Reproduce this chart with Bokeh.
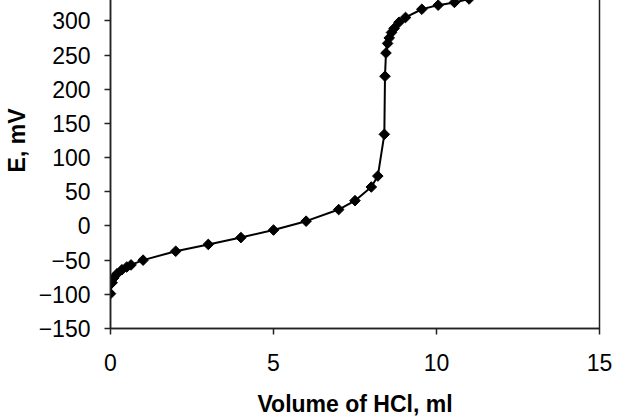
from bokeh.plotting import figure
from bokeh.models import Range1d, FixedTicker
from bokeh.embed import file_html
from bokeh.resources import INLINE

# Titration data: volume of HCl (ml) vs potential E (mV)
volume_ml = [0, 0.05, 0.1, 0.2, 0.35, 0.5, 0.63, 1, 2, 3, 4, 5, 6, 7, 7.5, 8, 8.2,
             8.4, 8.42, 8.45, 8.5, 8.55, 8.62, 8.7, 8.85, 9.05, 9.55, 10.05, 10.55, 11.0]
potential_mv = [-99, -83, -76, -70, -64, -60, -57, -50, -37, -27, -17, -6, 7, 24, 37, 57, 73,
                134, 219, 253, 267, 275, 283, 289, 298, 305, 317, 323, 327, 332]

x_ticks = [0, 5, 10, 15]
y_ticks = [-150, -100, -50, 0, 50, 100, 150, 200, 250, 300]

FONT = "Liberation Sans"

p = figure(width=614, height=467,
           x_range=Range1d(0, 15), y_range=Range1d(-150, 400),
           output_backend="svg", toolbar_location=None,
           min_border_left=107, min_border_right=15,
           min_border_top=0, min_border_bottom=88,
           margin=(-48, 0, -9, 0),
           background_fill_color="white", border_fill_color="white")

p.line(volume_ml, potential_mv, line_color="black", line_width=2)
p.scatter(volume_ml, potential_mv, marker="square", angle=0.785398, size=7.5,
          fill_color="black", line_color="black")

p.xgrid.grid_line_color = None
p.ygrid.grid_line_color = None
p.outline_line_color = "#222222"
p.outline_line_width = 1.5
p.outline_line_alpha = 1.0

p.xaxis.ticker = FixedTicker(ticks=x_ticks)
p.yaxis.ticker = FixedTicker(ticks=y_ticks)

for ax in (p.xaxis[0], p.yaxis[0]):
    ax.axis_line_color = "#222222"
    ax.axis_line_width = 1.5
    ax.major_tick_line_color = "#222222"
    ax.major_tick_line_width = 1.5
    ax.major_tick_out = 6
    ax.major_tick_in = 0
    ax.minor_tick_line_color = None
    ax.major_label_text_font = FONT
    ax.major_label_text_font_size = "23px"
    ax.major_label_text_color = "black"
    ax.axis_label_text_font = FONT
    ax.axis_label_text_font_size = "23px"
    ax.axis_label_text_font_style = "bold"
    ax.axis_label_text_color = "black"

p.xaxis.axis_label = "Volume of HCl, ml"
p.yaxis.axis_label = "E, mV"
p.xaxis.major_label_standoff = 19
p.yaxis.major_label_standoff = 14
p.xaxis.axis_label_standoff = 17
p.yaxis.axis_label_standoff = 6

open("out.html", "w").write(file_html(p, INLINE))
